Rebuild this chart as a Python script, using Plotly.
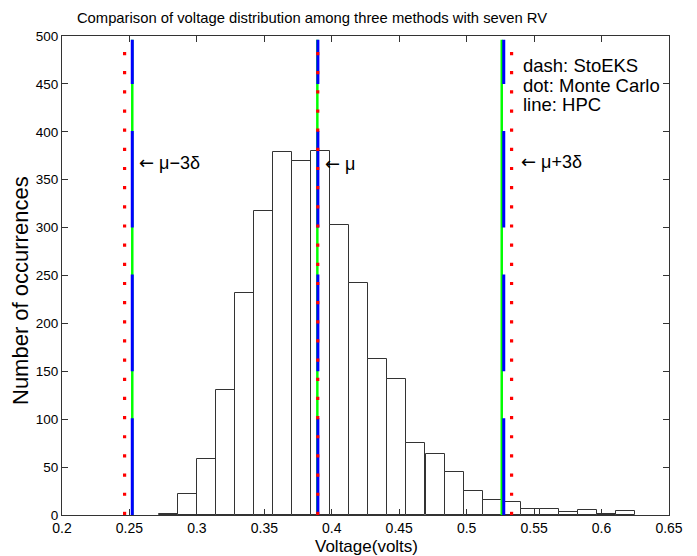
import plotly.graph_objects as go

# ---- data ----
bin_centers = [0.2789, 0.2930, 0.3071, 0.3213, 0.3354, 0.3495, 0.3636, 0.3777,
               0.3918, 0.4060, 0.4201, 0.4342, 0.4483, 0.4624, 0.4766, 0.4907,
               0.5048, 0.5189, 0.5330, 0.5472, 0.5613, 0.5754, 0.5895, 0.6036,
               0.6177]
bin_width = 0.01412
counts = [1, 22, 58, 130, 232, 317, 379, 370, 380, 303, 242, 163, 142, 75, 64,
          45, 25, 16, 14, 6, 6, 3, 5, 1, 4]

# vertical marker positions: mu-3d, mu, mu+3d for each method
hpc_x = [0.2521, 0.3893, 0.5260]          # line (green)
stoeks_x = [0.2521, 0.3897, 0.5275]       # dash (blue)
montecarlo_x = [0.2464, 0.3896, 0.5333]   # dot (red)
line_span = [0, 496]

ARROW = "<span style='font-family:DejaVu Sans'>\u2190</span> "
marker_labels = [ARROW + "\u03bc\u22123\u03b4", ARROW + "\u03bc", ARROW + "\u03bc+3\u03b4"]
legend_lines = ["dash: StoEKS", "dot: Monte Carlo", "line: HPC"]

x_ticks = [0.2, 0.25, 0.3, 0.35, 0.4, 0.45, 0.5, 0.55, 0.6, 0.65]
x_ticktext = ["0.2", "0.25", "0.3", "0.35", "0.4", "0.45", "0.5", "0.55", "0.6", "0.65"]
y_ticks = [0, 50, 100, 150, 200, 250, 300, 350, 400, 450, 500]

FONT = "Liberation Sans, Arial, sans-serif"
AX = "#333333"

# page body has an 8px default margin; figure sized to fill the rest
OFF = 8
W, H = 697 - OFF, 556 - OFF
ML, MR, MT, MB = 62 - OFF, 28, 36 - OFF, 41
PW, PH = W - ML - MR, H - MT - MB


def px_to_paper(px, py):
    """page pixel -> paper fraction of the plot area"""
    return (px - OFF - ML) / PW, (H - MB - (py - OFF)) / PH


fig = go.Figure()

fig.add_trace(go.Bar(
    x=bin_centers, y=counts, width=bin_width,
    marker=dict(color="white", line=dict(color=AX, width=1)),
    showlegend=False, hoverinfo="skip"))

for v in hpc_x:
    fig.add_trace(go.Scatter(x=[v, v], y=line_span, mode="lines",
                             line=dict(color="#00ff00", width=2.5),
                             showlegend=False, hoverinfo="skip"))
for v in stoeks_x:
    fig.add_trace(go.Scatter(x=[v, v], y=line_span, mode="lines",
                             line=dict(color="#0000ff", width=3, dash="96.7px,47px"),
                             showlegend=False, hoverinfo="skip"))
for v in montecarlo_x:
    fig.add_trace(go.Scatter(x=[v, v], y=line_span, mode="lines",
                             line=dict(color="#ff0000", width=3.2, dash="3.2px,15.96px"),
                             showlegend=False, hoverinfo="skip"))

ann = []
label_x = [0.2553, 0.3933, 0.5390]
label_y = [368, 367, 369]
for lx, ly, t in zip(label_x, label_y, marker_labels):
    ann.append(dict(x=lx, y=ly, xref="x", yref="y", text=t, showarrow=False,
                    xanchor="left", yanchor="middle",
                    font=dict(family=FONT, size=18, color="black")))
leg_y = [468.7, 448.3, 428.0]
for ly, t in zip(leg_y, legend_lines):
    ann.append(dict(x=0.5405, y=ly, xref="x", yref="y", text=t, showarrow=False,
                    xanchor="left", yanchor="middle",
                    font=dict(family=FONT, size=18.5, color="black")))
# axis titles
xt = px_to_paper(366, 546)
ann.append(dict(x=xt[0], y=xt[1], xref="paper", yref="paper",
                text="Voltage(volts)", showarrow=False, xanchor="center", yanchor="middle",
                font=dict(family=FONT, size=17, color="black")))
yt = px_to_paper(20, 291)
ann.append(dict(x=yt[0], y=yt[1], xref="paper", yref="paper",
                text="Number of occurrences", showarrow=False, textangle=-90,
                xanchor="center", yanchor="middle",
                font=dict(family=FONT, size=22, color="black")))

fig.update_layout(
    width=W, height=H,
    margin=dict(l=ML, r=MR, t=MT, b=MB, autoexpand=False),
    paper_bgcolor="white", plot_bgcolor="white",
    title=dict(text="Comparison of voltage distribution among three methods with seven RV",
               x=(312 - OFF) / W, xref="container", xanchor="center",
               y=1 - (18 - OFF) / H, yref="container", yanchor="middle",
               font=dict(family=FONT, size=14.8, color="black")),
    xaxis=dict(range=[0.2, 0.65], tickvals=x_ticks, ticktext=x_ticktext,
               ticks="inside", ticklen=6, tickcolor=AX, tickwidth=1,
               showline=True, linecolor=AX, linewidth=1, mirror="ticks",
               showgrid=False, zeroline=False,
               tickfont=dict(family=FONT, size=14, color="black")),
    yaxis=dict(range=[0, 500], tickvals=y_ticks,
               ticks="inside", ticklen=6, tickcolor=AX, tickwidth=1,
               showline=True, linecolor=AX, linewidth=1, mirror="ticks",
               showgrid=False, zeroline=False,
               tickfont=dict(family=FONT, size=13.5, color="black")),
    annotations=ann,
    bargap=0,
)

fig.write_html("out.html")
